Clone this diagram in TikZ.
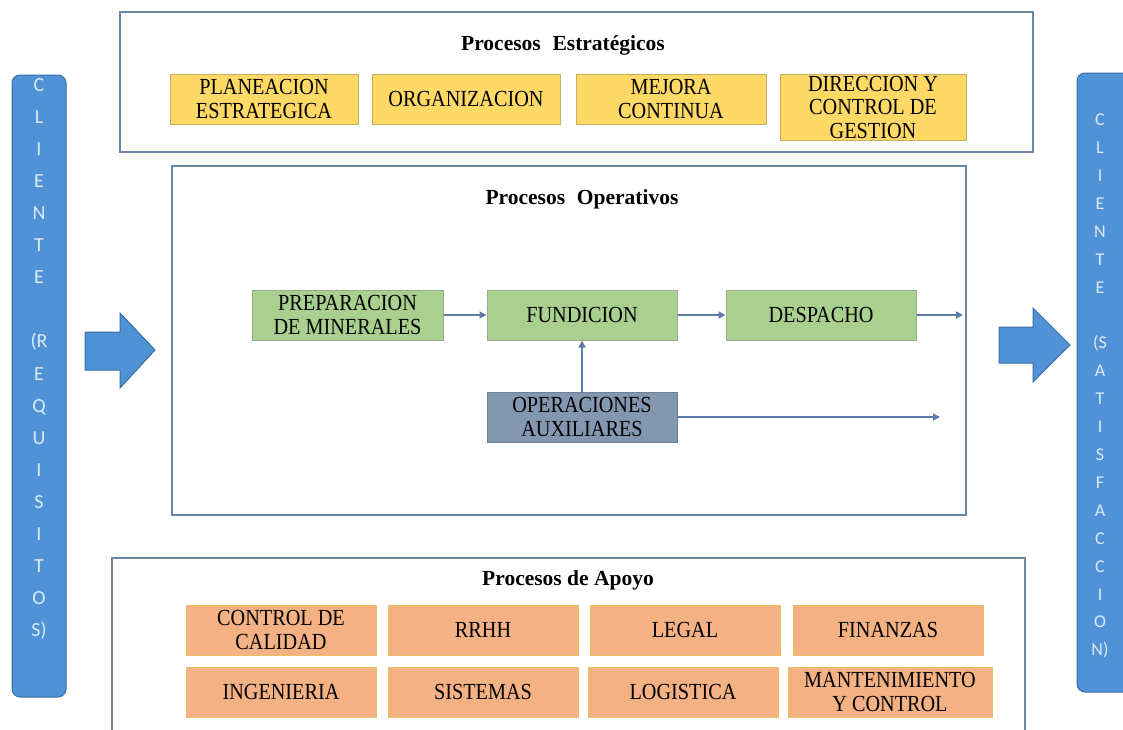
\documentclass[tikz,border=0pt]{standalone}
\usepackage{fontspec}
\setmainfont{Liberation Serif}
\newfontfamily\boxfont[FakeStretch=0.88]{Liberation Serif}
\newfontfamily\titlefont{Liberation Serif}
\newfontfamily\barfont{Carlito}
\usetikzlibrary{arrows.meta}

\definecolor{barblue}{HTML}{4F93D6}
\definecolor{barline}{HTML}{3A6EA5}
\definecolor{bartext}{HTML}{DCEAF7}
\definecolor{frameline}{HTML}{6A89A8}
\definecolor{flowline}{HTML}{5B7BA8}
\definecolor{yfill}{HTML}{FFD966}
\definecolor{yline}{HTML}{C9AE5E}
\definecolor{gfill}{HTML}{A9D08E}
\definecolor{gline}{HTML}{98AD8C}
\definecolor{ofill}{HTML}{F4B183}
\definecolor{oline}{HTML}{EBC064}
\definecolor{bgfill}{HTML}{8497B0}
\definecolor{bgline}{HTML}{6F7F95}

\tikzset{
  procbox/.style={draw, line width=1pt, inner sep=0pt, align=center,
    font=\boxfont\fontsize{23}{23.5}\selectfont, minimum height=50pt},
  ybox/.style={procbox, fill=yfill, draw=yline},
  gbox/.style={procbox, fill=gfill, draw=gline},
  obox/.style={procbox, fill=ofill, draw=oline},
  bgbox/.style={procbox, fill=bgfill, draw=bgline},
  frame/.style={draw=frameline, line width=1.4pt},
  title/.style={font=\titlefont\fontsize{21.5}{25}\selectfont\bfseries, inner sep=0pt},
  flow/.style={draw=flowline, line width=1.6pt, -{Triangle[length=7pt,width=7pt]}},
  clientbar/.style={fill=barblue, draw=barline, line width=1pt, rounded corners=8pt},
  bigarrow/.style={fill=barblue, draw=barline, line width=1pt},
  barletter/.style={text=bartext, inner sep=0pt, text depth=0pt, anchor=center},
}

\begin{document}
\begin{tikzpicture}[x=1pt, y=-1pt]
\useasboundingbox (0,0) rectangle (1123,729);
\fill[white] (0,0) rectangle (1123,729);

% client bars
\draw[clientbar] (12,75) rectangle (66,697);
\draw[clientbar] (1077,73) rectangle (1140,692);

\foreach \t [count=\i] in {C,L,I,E,N,T,E,{},{(R},E,Q,U,I,S,I,T,O,{S)}} {
  \node[barletter, font=\barfont\fontsize{20}{24}\selectfont, text height=13pt]
    (req\i) at (39,{85+32.06*(\i-1)}) {\t};
}
\foreach \t [count=\i] in {C,L,I,E,N,T,E,{},{(S},A,T,I,S,F,A,C,C,I,O,{N)}} {
  \node[barletter, font=\barfont\fontsize{18}{22}\selectfont, text height=11.5pt]
    (sat\i) at (1100,{120+27.9*(\i-1)}) {\t};
}

% big input / output arrows
\draw[bigarrow] (85,332) -- (120,332) -- (120,313) -- (155,350) -- (120,388)
  -- (120,370) -- (85,370) -- cycle;
\draw[bigarrow] (999,327) -- (1033,327) -- (1033,308) -- (1070,345) -- (1033,382)
  -- (1033,363) -- (999,363) -- cycle;

% strategic processes
\draw[frame] (120,12) rectangle (1033,152);
\node[title] (tEst) at (563,45) {Procesos\hspace{0.3em} Estratégicos};
\node[ybox, minimum width=188pt] (plan) at (264,99) {PLANEACION\\ESTRATEGICA};
\node[ybox, minimum width=188pt] (org) at (466,99) {ORGANIZACION};
\node[ybox, minimum width=190pt] (mej) at (671,99) {MEJORA\\CONTINUA};
\node[ybox, minimum width=186pt, minimum height=66pt] (dir) at (873,107)
  {DIRECCION Y\\CONTROL DE\\GESTION};

% operative processes
\draw[frame] (172,166) rectangle (966,515);
\node[title] (tOp) at (582,199) {Procesos\hspace{0.3em} Operativos};
\node[gbox, minimum width=191pt] (prep) at (347.5,315) {PREPARACION\\DE MINERALES};
\node[gbox, minimum width=190pt] (fund) at (582,315) {FUNDICION};
\node[gbox, minimum width=190pt] (desp) at (821,315) {DESPACHO};
\node[bgbox, minimum width=190pt] (oper) at (582,417) {OPERACIONES\\AUXILIARES};
\coordinate (despOut) at (963,315);
\coordinate (operOut) at (940,417);

\draw[flow] (prep) -- (fund);
\draw[flow] (fund) -- (desp);
\draw[flow] (desp.east) -- (despOut);
\draw[flow] (oper.north) -- (fund.south);
\draw[flow] (oper.east) -- (operOut);

% support processes
\draw[frame] (112,740) -- (112,558) -- (1025,558) -- (1025,740);
\node[title] (tApo) at (568,580) {Procesos de Apoyo};
\node[obox, minimum width=190pt] (cal) at (281,630) {CONTROL DE\\CALIDAD};
\node[obox, minimum width=190pt] (rrhh) at (483,630) {RRHH};
\node[obox, minimum width=190pt] (leg) at (685,630) {LEGAL};
\node[obox, minimum width=190pt] (fin) at (888,630) {FINANZAS};
\node[obox, minimum width=190pt] (ing) at (281,692) {INGENIERIA};
\node[obox, minimum width=190pt] (sis) at (483,692) {SISTEMAS};
\node[obox, minimum width=190pt] (log) at (683,692) {LOGISTICA};
\node[obox, minimum width=204pt] (mant) at (890,692) {MANTENIMIENTO\\Y CONTROL};
\end{tikzpicture}
\end{document}
